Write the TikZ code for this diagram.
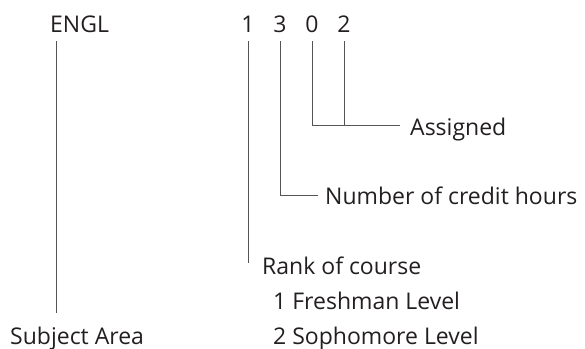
\documentclass[tikz,border=0pt]{standalone}
\usepackage{fontspec}
\setmainfont{Open Sans}
\definecolor{ink}{HTML}{231F20}
\definecolor{rule}{HTML}{555555}

\begin{document}
\begin{tikzpicture}[x=1pt, y=-1pt,
    nodes = {font=\fontsize{23}{27}\selectfont, text=ink, inner sep=0pt,
             anchor=base west},
    codeline/.style = {draw=rule, line width=1pt}]
\useasboundingbox (0,0) rectangle (585,348);
% course code
\node (engl) at (50,32) {ENGL};
\foreach \d/\x in {1/248, 3/280, 0/312, 2/344}
  \node[anchor=base] (d\d) at (\x,32) {\d};
% labels
\node (assigned) at (410,135) {Assigned};
\node (credit)   at (325,204) {Number of credit hours};
\node (rank)     at (262,274) {Rank of course};
\node (fresh)    at (273,309) {1 Freshman Level};
\node (soph)     at (273,344) {2 Sophomore Level};
\node (subject)  at (10,344)  {Subject Area};
% corners of the leader lines
\coordinate (c0) at (312,125);
\coordinate (c2) at (344,125);
\coordinate (c3) at (280,195);
\coordinate (c1) at (248,263);
\coordinate (ce) at (56,313);
% leader lines
\draw[codeline] ([xshift=6pt,yshift=-9pt]engl.base west) -- (ce);
\draw[codeline] ([yshift=-9pt]d1.base) -- (c1);
\draw[codeline, shorten >=7pt] ([yshift=-9pt]d3.base) -- (c3)
  -- (c3 -| credit.west);
\draw[codeline] ([yshift=-9pt]d0.base) -- (c0) -- (c2);
\draw[codeline, shorten >=10pt] ([yshift=-9pt]d2.base) -- (c2)
  -- (c2 -| assigned.west);
\end{tikzpicture}
\end{document}
